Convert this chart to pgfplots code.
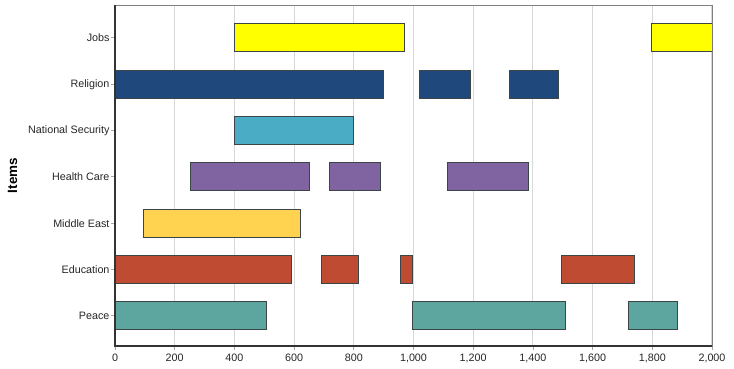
\documentclass[border=0pt]{standalone}
\usepackage{pgfplots}
\pgfplotsset{compat=1.18}
\usepackage{fontspec}
\setmainfont{Liberation Sans}
\definecolor{cJobs}{HTML}{FFFF00}
\definecolor{cRel}{HTML}{1F497D}
\definecolor{cNat}{HTML}{4BACC6}
\definecolor{cHealth}{HTML}{8064A2}
\definecolor{cME}{HTML}{FFD24F}
\definecolor{cEdu}{HTML}{BE4B32}
\definecolor{cPeace}{HTML}{5DA6A0}
\definecolor{edgec}{HTML}{3C4646}
\definecolor{gridc}{HTML}{D8D8D8}
% segment: start, end, y-low, y-high, colour
\newcommand{\seg}[5]{\addplot[fill=#5, draw=edgec, line width=1pt, line join=miter] coordinates {(#1,#3) (#2,#3) (#2,#4) (#1,#4)} -- cycle;}
\begin{document}
\begin{tikzpicture}
\useasboundingbox (-115bp,-23bp) rectangle (619bp,346bp);
\begin{axis}[
  at={(0,0)}, anchor=south west,
  scale only axis, width=597bp, height=341bp,
  xmin=0, xmax=2000, ymin=-0.65, ymax=6.71,
  xtick={0,200,...,2000},
  ytick={0,1,2,3,4,5,6},
  yticklabels={Peace,Education,Middle East,Health Care,National Security,Religion,Jobs},
  /pgf/number format/assume math mode=true,
  /pgf/number format/1000 sep={,},
  xmajorgrids, grid style={gridc, line width=1.2pt},
  tick align=outside, tick pos=left,
  major tick length=4bp,
  tick style={gray!70, line width=0.8pt},
  axis line style={gray, line width=0.9pt},
  ticklabel style={font=\fontsize{10.8}{12}\selectfont, text=black!85},
  xticklabel style={yshift=0bp},
  yticklabel style={xshift=2bp},
  ylabel={Items},
  ylabel style={font=\fontsize{13.5}{15}\selectfont\bfseries, yshift=4bp},
  after end axis/.code={
    \draw[black!80, line width=1.4pt] (rel axis cs:0,1) -- (rel axis cs:0,0) -- (rel axis cs:1,0);
  },
]
% Jobs (6)
\seg{400}{970}{5.70}{6.30}{cJobs}
\seg{1797}{2000}{5.70}{6.30}{cJobs}
% Religion (5)
\seg{0}{900}{4.70}{5.30}{cRel}
\seg{1020}{1190}{4.70}{5.30}{cRel}
\seg{1320}{1485}{4.70}{5.30}{cRel}
% National Security (4)
\seg{400}{800}{3.70}{4.30}{cNat}
% Health Care (3)
\seg{253}{653}{2.70}{3.30}{cHealth}
\seg{719}{888}{2.70}{3.30}{cHealth}
\seg{1114}{1384}{2.70}{3.30}{cHealth}
% Middle East (2)
\seg{96}{620}{1.70}{2.30}{cME}
% Education (1)
\seg{0}{590}{0.70}{1.30}{cEdu}
\seg{692}{815}{0.70}{1.30}{cEdu}
\seg{958}{997}{0.70}{1.30}{cEdu}
\seg{1496}{1739}{0.70}{1.30}{cEdu}
% Peace (0)
\seg{0}{509}{-0.30}{0.30}{cPeace}
\seg{996}{1508}{-0.30}{0.30}{cPeace}
\seg{1721}{1886}{-0.30}{0.30}{cPeace}
\end{axis}
\end{tikzpicture}
\end{document}
